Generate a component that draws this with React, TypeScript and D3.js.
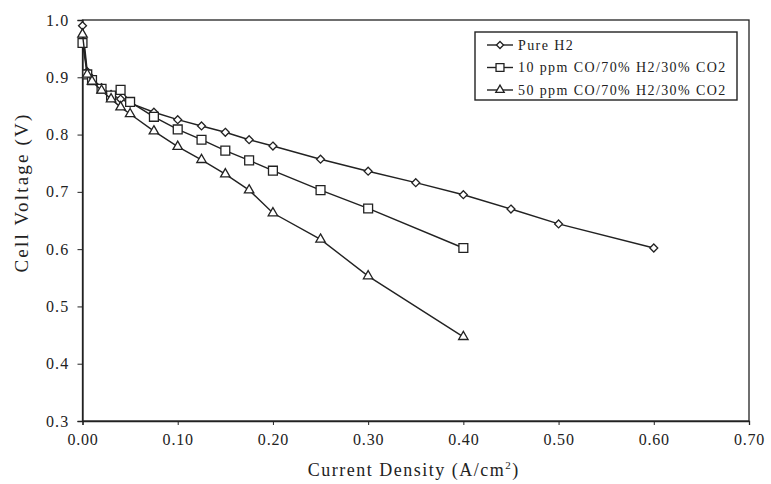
import React, { useEffect, useRef } from "react";
import * as d3 from "d3";

// current density (A/cm2) and cell voltage (V)
const pureH2X = [0, 0.005, 0.01, 0.02, 0.03, 0.04, 0.05, 0.075, 0.1, 0.125, 0.15, 0.175, 0.2, 0.25, 0.3, 0.35, 0.4, 0.45, 0.5, 0.6];
const pureH2V = [0.99, 0.91, 0.898, 0.882, 0.87, 0.862, 0.855, 0.839, 0.826, 0.815, 0.804, 0.791, 0.78, 0.757, 0.736, 0.716, 0.695, 0.67, 0.644, 0.602];

const co10X = [0, 0.005, 0.01, 0.02, 0.03, 0.04, 0.05, 0.075, 0.1, 0.125, 0.15, 0.175, 0.2, 0.25, 0.3, 0.4];
const co10V = [0.96, 0.905, 0.895, 0.88, 0.868, 0.878, 0.857, 0.831, 0.809, 0.791, 0.772, 0.755, 0.737, 0.703, 0.671, 0.602];

const co50X = [0, 0.005, 0.01, 0.02, 0.03, 0.04, 0.05, 0.075, 0.1, 0.125, 0.15, 0.175, 0.2, 0.25, 0.3, 0.4];
const co50V = [0.975, 0.905, 0.893, 0.877, 0.862, 0.848, 0.836, 0.806, 0.779, 0.756, 0.731, 0.703, 0.663, 0.617, 0.553, 0.447];

const seriesNames = ["Pure H2", "10 ppm CO/70% H2/30% CO2", "50 ppm CO/70% H2/30% CO2"];
const xTicks = [0, 0.1, 0.2, 0.3, 0.4, 0.5, 0.6, 0.7];
const yTicks = [0.3, 0.4, 0.5, 0.6, 0.7, 0.8, 0.9, 1.0];

const width = 771;
const height = 484;
const margin = { top: 20, right: 22, bottom: 63, left: 82.5 };
const ink = "#222";
const font = "'Liberation Serif', 'Times New Roman', serif";

export default function App() {
  const svgRef = useRef<SVGSVGElement>(null);

  useEffect(() => {
    const svg = d3.select(svgRef.current);
    svg.selectAll("*").remove();

    const x = d3.scaleLinear().domain([0, 0.7]).range([margin.left, width - margin.right]);
    const y = d3.scaleLinear().domain([0.3, 1.0]).range([height - margin.bottom, margin.top]);

    svg.append("rect").attr("width", width).attr("height", height).attr("fill", "#fff");

    // plot frame
    svg
      .append("rect")
      .attr("x", x(0))
      .attr("y", y(1.0))
      .attr("width", x(0.7) - x(0))
      .attr("height", y(0.3) - y(1.0))
      .attr("fill", "none")
      .attr("stroke", ink)
      .attr("stroke-width", 1.3);

    // x axis
    const xAxis = svg
      .append("g")
      .attr("transform", `translate(0,${y(0.3)})`)
      .call(
        d3
          .axisBottom(x)
          .tickValues(xTicks)
          .tickSize(4)
          .tickFormat((d) => d3.format(".2f")(d as number))
      );
    xAxis.select(".domain").attr("stroke", ink).attr("stroke-width", 1.3);
    xAxis.selectAll("line").attr("stroke", ink);
    xAxis
      .selectAll("text")
      .attr("font-family", font)
      .attr("font-size", 16)
      .attr("letter-spacing", 0.8)
      .attr("fill", ink)
      .attr("dy", "1.05em");

    // y axis
    const yAxis = svg
      .append("g")
      .attr("transform", `translate(${x(0)},0)`)
      .call(
        d3
          .axisLeft(y)
          .tickValues(yTicks)
          .tickSize(5)
          .tickFormat((d) => d3.format(".1f")(d as number))
      );
    yAxis.select(".domain").attr("stroke", ink).attr("stroke-width", 1.3);
    yAxis.selectAll("line").attr("stroke", ink);
    yAxis
      .selectAll("text")
      .attr("font-family", font)
      .attr("font-size", 16)
      .attr("letter-spacing", 1.2)
      .attr("fill", ink)
      .attr("x", -13);

    // axis titles
    const xTitle = svg
      .append("text")
      .attr("x", (x(0) + x(0.7)) / 2 - 2)
      .attr("y", 476)
      .attr("text-anchor", "middle")
      .attr("font-family", font)
      .attr("font-size", 18)
      .attr("letter-spacing", 1.5)
      .attr("fill", ink);
    xTitle.append("tspan").text("Current Density (A/cm");
    xTitle.append("tspan").attr("dy", -7).attr("font-size", 11).text("2");
    xTitle.append("tspan").attr("dy", 7).text(")");

    svg
      .append("text")
      .attr("transform", `translate(28,${(y(0.3) + y(1.0)) / 2 - 28}) rotate(-90)`)
      .attr("text-anchor", "middle")
      .attr("font-family", font)
      .attr("font-size", 19)
      .attr("letter-spacing", 2.2)
      .attr("fill", ink)
      .text("Cell Voltage (V)");

    const series = [
      { name: seriesNames[0], xs: pureH2X, vs: pureH2V, symbol: d3.symbolDiamond2, size: 40 },
      { name: seriesNames[1], xs: co10X, vs: co10V, symbol: d3.symbolSquare2, size: 100 },
      { name: seriesNames[2], xs: co50X, vs: co50V, symbol: d3.symbolTriangle2, size: 64 },
    ];

    const line = d3
      .line<[number, number]>()
      .x((d) => x(d[0]))
      .y((d) => y(d[1]));

    series.forEach((s) => {
      const pts: [number, number][] = s.xs.map((v, i) => [v, s.vs[i]]);
      svg
        .append("path")
        .datum(pts)
        .attr("d", line)
        .attr("fill", "none")
        .attr("stroke", ink)
        .attr("stroke-width", 1.4);

      svg
        .append("g")
        .selectAll("path")
        .data(pts)
        .enter()
        .append("path")
        .attr("transform", (d) => `translate(${x(d[0])},${y(d[1])})`)
        .attr("d", d3.symbol(s.symbol, s.size)())
        .attr("fill", "#fff")
        .attr("stroke", ink)
        .attr("stroke-width", 1.3);
    });

    // legend
    const legend = svg.append("g").attr("transform", "translate(475,32)");
    legend
      .append("rect")
      .attr("width", 262)
      .attr("height", 68)
      .attr("fill", "#fff")
      .attr("stroke", ink)
      .attr("stroke-width", 1.4);

    series.forEach((s, i) => {
      const row = legend.append("g").attr("transform", `translate(0,${13 + i * 22.5})`);
      row.append("line").attr("x1", 12).attr("x2", 38).attr("stroke", ink).attr("stroke-width", 1.4);
      row
        .append("path")
        .attr("transform", "translate(25,0)")
        .attr("d", d3.symbol(s.symbol, s.size * 0.8)())
        .attr("fill", "#fff")
        .attr("stroke", ink)
        .attr("stroke-width", 1.3);
      row
        .append("text")
        .attr("x", 43)
        .attr("dy", "0.35em")
        .attr("font-family", font)
        .attr("font-size", 14)
        .attr("letter-spacing", 1.4)
        .attr("fill", ink)
        .text(s.name);
    });
  }, []);

  return (
    <div style={{ position: "absolute", left: 0, top: 0 }}>
      <svg ref={svgRef} width={width} height={height} style={{ display: "block" }} />
    </div>
  );
}
